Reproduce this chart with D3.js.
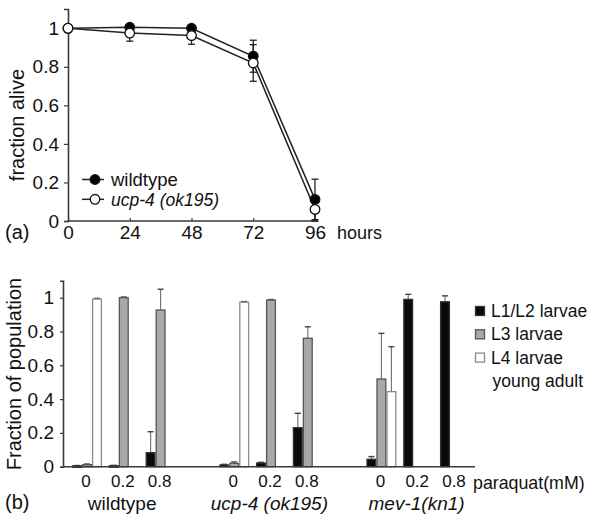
<!DOCTYPE html>
<html>
<head>
<meta charset="utf-8">
<script src="https://cdn.jsdelivr.net/npm/d3@7"></script>
<style>
  html, body { margin: 0; padding: 0; background: #fff; }
  svg { display: block; font-family: "Liberation Sans", Arial, Helvetica, sans-serif; }
</style>
</head>
<body>
<svg id="chart" width="602" height="523"></svg>
<script>
// ---------- Panel (a) data ----------
const hours = [0, 24, 48, 72, 96];
const wildtypeAlive = [1, 1.005, 1.0, 0.855, 0.112];
const wildtypeErr = [0, 0.012, 0.012, 0.083, 0.105];
const ucp4Alive = [1, 0.975, 0.962, 0.82, 0.06];
const ucp4Err = [0, 0.042, 0.045, 0.095, 0.06];
const aYTicks = [0, 0.2, 0.4, 0.6, 0.8, 1];
const aSeriesNames = ["wildtype", "ucp-4 (ok195)"];

// ---------- Panel (b) data ----------
const strains = ["wildtype", "ucp-4 (ok195)", "mev-1(kn1)"];
const doses = ["0", "0.2", "0.8"];
const stages = ["L1/L2 larvae", "L3 larvae", "L4 larvae"];
const stageExtra = "young adult";
// values indexed [strain][dose]
const l1l2 = [[0.005, 0.006, 0.083], [0.01, 0.022, 0.231], [0.044, 0.99, 0.976]];
const l1l2Err = [[0.002, 0.002, 0.124], [0.004, 0.004, 0.085], [0.016, 0.03, 0.035]];
const l3 = [[0.012, 1.0, 0.927], [0.02, 0.986, 0.76], [0.519, 0, 0]];
const l3Err = [[0.004, 0.004, 0.123], [0.008, 0.003, 0.068], [0.27, 0, 0]];
const l4 = [[0.992, 0, 0], [0.973, 0, 0], [0.444, 0, 0]];
const l4Err = [[0.004, 0, 0], [0.004, 0, 0], [0.266, 0, 0]];
const bYTicks = [0, 0.2, 0.4, 0.6, 0.8, 1];

const svg = d3.select("#chart");
const FONT = "'Liberation Sans', Arial, Helvetica, sans-serif";
const AXIS = "#3a3a3a";

// =============== PANEL (a) ===============
const ax = d3.scaleLinear().domain([0, 96]).range([68, 315]);
const ay = d3.scaleLinear().domain([0, 1.1]).range([221, 9]);
const ga = svg.append("g");

// y axis
const yAxA = ga.append("g").attr("transform", "translate(68,0)")
  .call(d3.axisLeft(ay).tickValues(aYTicks).tickSize(4).tickPadding(5).tickFormat(d => String(d)));
yAxA.select(".domain").attr("stroke", AXIS).attr("stroke-width", 1.6);
yAxA.selectAll(".tick line").attr("stroke", AXIS).attr("stroke-width", 1.2);
yAxA.selectAll(".tick text").attr("font-size", 19).attr("font-family", FONT).attr("fill", "#111");

// x axis
const xAxA = ga.append("g").attr("transform", "translate(0,221)")
  .call(d3.axisBottom(ax).tickValues(hours).tickSizeInner(-3).tickSizeOuter(0).tickFormat(d => String(d)));
xAxA.select(".domain").attr("stroke", AXIS).attr("stroke-width", 1.6)
  .attr("d", `M${ax(0)},0H${ax(96) + 3}`);
xAxA.selectAll(".tick line").attr("stroke", AXIS).attr("stroke-width", 1.2);
xAxA.selectAll(".tick text").attr("font-size", 19).attr("font-family", FONT).attr("fill", "#111")
  .attr("y", 18).attr("dy", 0);

ga.append("text").attr("x", 337).attr("y", 239).attr("font-size", 18).attr("fill", "#111").text("hours");
ga.append("text").attr("x", 5).attr("y", 239).attr("font-size", 20).attr("fill", "#111").text("(a)");
ga.append("text").attr("transform", "translate(24,125) rotate(-90)").attr("text-anchor", "middle")
  .attr("font-size", 20).attr("fill", "#111").text("fraction alive");

const series = [
  { name: aSeriesNames[0], vals: wildtypeAlive, err: wildtypeErr, fill: "#000" },
  { name: aSeriesNames[1], vals: ucp4Alive, err: ucp4Err, fill: "#fff" }
];
const line = d3.line().x((d, i) => ax(hours[i])).y(d => ay(d));
series.forEach(s => {
  ga.append("path").datum(s.vals).attr("d", line)
    .attr("fill", "none").attr("stroke", "#222").attr("stroke-width", 1.5);
});
series.forEach(s => {
  const g = ga.append("g");
  s.vals.forEach((v, i) => {
    const e = s.err[i];
    if (e > 0) {
      const x = ax(hours[i]);
      g.append("line").attr("x1", x).attr("x2", x).attr("y1", ay(v + e)).attr("y2", ay(Math.max(0, v - e)))
        .attr("stroke", "#222").attr("stroke-width", 1.3);
      [v + e, Math.max(0, v - e)].forEach(c => {
        g.append("line").attr("x1", x - 3.5).attr("x2", x + 3.5).attr("y1", ay(c)).attr("y2", ay(c))
          .attr("stroke", "#222").attr("stroke-width", 1.3);
      });
    }
  });
});
series.forEach(s => {
  ga.append("g").selectAll("circle").data(s.vals).join("circle")
    .attr("cx", (d, i) => ax(hours[i])).attr("cy", d => ay(d)).attr("r", 4.8)
    .attr("fill", s.fill).attr("stroke", "#111").attr("stroke-width", 1.3);
});

// legend (a)
const legendRowsA = [179.5, 199.3];
series.forEach((s, i) => {
  const cy = legendRowsA[i];
  ga.append("line").attr("x1", 82).attr("x2", 104).attr("y1", cy).attr("y2", cy)
    .attr("stroke", "#222").attr("stroke-width", 1.5);
  ga.append("circle").attr("cx", 95).attr("cy", cy).attr("r", 4.8)
    .attr("fill", s.fill).attr("stroke", "#111").attr("stroke-width", 1.3);
  ga.append("text").attr("x", 111).attr("y", cy + 6.3)
    .attr("font-size", i === 0 ? 18.5 : 17.5).attr("font-style", i === 0 ? "normal" : "italic")
    .attr("fill", "#111").text(s.name);
});

// =============== PANEL (b) ===============
const gb = svg.append("g");
const by = d3.scaleLinear().domain([0, 1.1]).range([466.7, 280.8]);
const bxStrain = d3.scaleBand().domain(strains).range([72, 476.8]).paddingInner(0.25).paddingOuter(0);
const bxDose = d3.scaleBand().domain(doses).range([0, bxStrain.bandwidth()]).padding(0);
const bxStage = d3.scaleBand().domain(stages).range([0, bxDose.bandwidth() * 0.815]).padding(0);

const yAxB = gb.append("g").attr("transform", "translate(63,0)")
  .call(d3.axisLeft(by).tickValues(bYTicks).tickSize(3).tickPadding(6).tickFormat(d => String(d)));
yAxB.select(".domain").attr("stroke", AXIS).attr("stroke-width", 1.6);
yAxB.selectAll(".tick line").attr("stroke", AXIS).attr("stroke-width", 1.2);
yAxB.selectAll(".tick text").attr("font-size", 19).attr("font-family", FONT).attr("fill", "#111");

gb.append("text").attr("transform", "translate(21,374) rotate(-90)").attr("text-anchor", "middle")
  .attr("font-size", 20).attr("fill", "#111").text("Fraction of population");

const stageData = [
  { v: l1l2, e: l1l2Err, fill: "#0a0a0a", stroke: "#333" },
  { v: l3, e: l3Err, fill: "#a9a9a9", stroke: "#555" },
  { v: l4, e: l4Err, fill: "#ffffff", stroke: "#8a8a8a" }
];

strains.forEach((st, si) => {
  doses.forEach((ds, di) => {
    const x0 = bxStrain(st) + bxDose(ds);
    stageData.forEach((sd, ki) => {
      const v = sd.v[si][di];
      const bx = x0 + bxStage(stages[ki]);
      const bw = bxStage.bandwidth();
      const e = sd.e[si][di];
      if (e > 0) {
        const cx = bx + bw / 2;
        gb.append("line").attr("x1", cx).attr("x2", cx).attr("y1", by(v)).attr("y2", by(v + e))
          .attr("stroke", "#777").attr("stroke-width", 1.2);
        gb.append("line").attr("x1", cx - 3).attr("x2", cx + 3).attr("y1", by(v + e)).attr("y2", by(v + e))
          .attr("stroke", "#444").attr("stroke-width", 1.4);
      }
      if (v > 0) {
        gb.append("rect").attr("x", bx + 0.6).attr("y", by(v)).attr("width", bw - 1.2)
          .attr("height", Math.max(by(0) - by(v), 1.5))
          .attr("fill", sd.fill).attr("stroke", sd.stroke).attr("stroke-width", 1.3);
      }
    });
    gb.append("text").attr("x", x0 + 14).attr("y", 487.3).attr("text-anchor", "middle")
      .attr("font-size", 17).attr("fill", "#111").text(ds);
  });
  gb.append("text").attr("x", bxStrain(st) + bxStrain.bandwidth() / 2 - 5).attr("y", 510)
    .attr("text-anchor", "middle").attr("font-size", 19)
    .attr("font-style", si === 0 ? "normal" : "italic").attr("fill", "#111").text(st);
});

// x axis line
gb.append("line").attr("x1", 63).attr("x2", 475).attr("y1", by(0)).attr("y2", by(0))
  .attr("stroke", AXIS).attr("stroke-width", 1.6);

gb.append("text").attr("x", 473).attr("y", 489).attr("font-size", 17.8).attr("fill", "#111").text("paraquat(mM)");
gb.append("text").attr("x", 5).attr("y", 509).attr("font-size", 20).attr("fill", "#111").text("(b)");

// legend (b)
stages.forEach((s, i) => {
  const cy = 311 + i * 23.3;
  gb.append("rect").attr("x", 475.5).attr("y", cy - 4.5).attr("width", 9).attr("height", 9)
    .attr("fill", stageData[i].fill).attr("stroke", stageData[i].stroke).attr("stroke-width", 1.3);
  gb.append("text").attr("x", 491).attr("y", cy + 6).attr("font-size", 17.5).attr("fill", "#111").text(s);
});
gb.append("text").attr("x", 492.5).attr("y", 311 + 3 * 23.3 + 6).attr("font-size", 17.5).attr("fill", "#111").text(stageExtra);
</script>
</body>
</html>
